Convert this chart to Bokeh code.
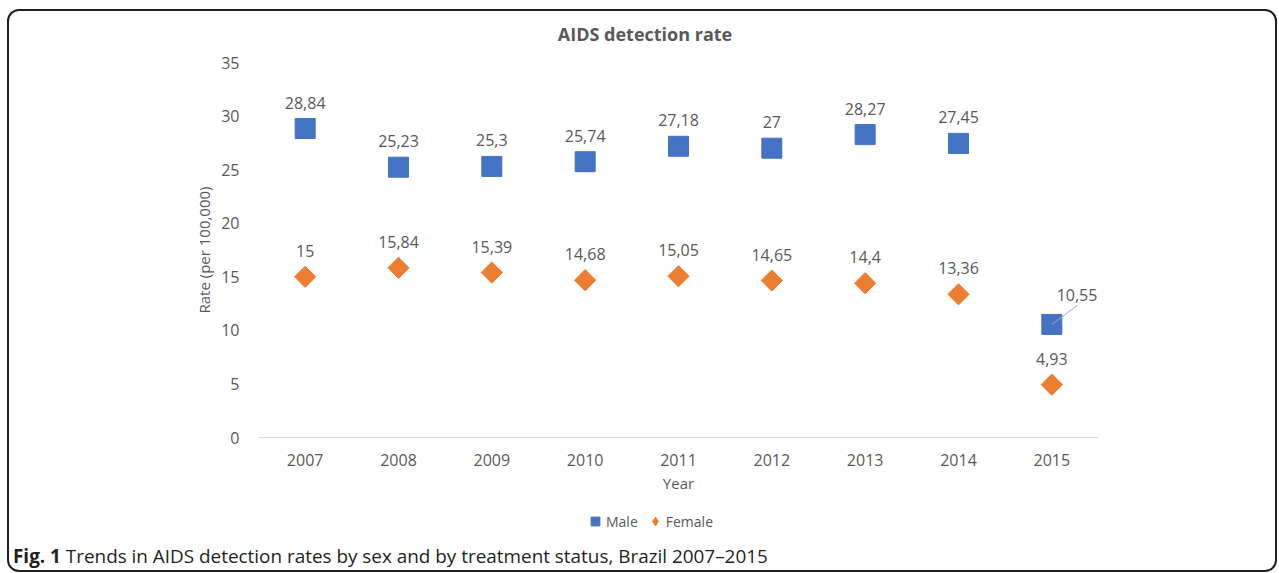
from bokeh.plotting import figure
from bokeh.models import (ColumnDataSource, FixedTicker, Legend, LegendItem, Div, Range1d)
from bokeh.layouts import column
from bokeh.embed import file_html
from bokeh.resources import INLINE
from bokeh.core.properties import value
import numpy as np

years = ["2007", "2008", "2009", "2010", "2011", "2012", "2013", "2014", "2015"]
male = [28.84, 25.23, 25.3, 25.74, 27.18, 27, 28.27, 27.45, 10.55]
female = [15, 15.84, 15.39, 14.68, 15.05, 14.65, 14.4, 13.36, 4.93]
male_labels = ["28,84", "25,23", "25,3", "25,74", "27,18", "27", "28,27", "27,45", "10,55"]
female_labels = ["15", "15,84", "15,39", "14,68", "15,05", "14,65", "14,4", "13,36", "4,93"]
y_ticks = [0, 5, 10, 15, 20, 25, 30, 35]

FONT = "Open Sans"
GRAY = "#595959"
BLUE = "#4472C4"
ORANGE = "#ED7D31"
W = 1266

xs = list(range(len(years)))

title = Div(text="AIDS detection rate", width=W, height=40, margin=0,
            styles={"font-family": "Open Sans", "font-size": "18px", "font-weight": "bold",
                    "color": GRAY, "text-align": "center", "padding-left": "6px",
                    "line-height": "46px", "white-space": "nowrap"})

p = figure(width=W, height=449, output_backend="svg", toolbar_location=None,
           x_range=Range1d(-0.5, len(years) - 0.5), y_range=Range1d(0, 35),
           min_border_left=249, min_border_right=177, min_border_top=11, min_border_bottom=63)
p.title = None
p.outline_line_color = None
p.grid.grid_line_color = None

p.xaxis.ticker = FixedTicker(ticks=xs)
p.xaxis.major_label_overrides = {i: y for i, y in enumerate(years)}
p.yaxis.ticker = FixedTicker(ticks=y_ticks)
for ax in (p.xaxis, p.yaxis):
    ax.major_tick_line_color = None
    ax.minor_tick_line_color = None
    ax.major_label_text_font = FONT
    ax.major_label_text_font_size = "16px"
    ax.major_label_text_color = GRAY
    ax.axis_label_text_font = FONT
    ax.axis_label_text_font_size = "15px"
    ax.axis_label_text_color = GRAY
    ax.axis_label_text_font_style = "normal"
p.yaxis.axis_line_color = None
p.xaxis.axis_line_color = "#D9D9D9"
p.xaxis.axis_line_width = 1
p.xaxis.major_label_standoff = 10
p.yaxis.major_label_standoff = 13
p.xaxis.axis_label = "Year"
p.xaxis.axis_label_standoff = 4
p.yaxis.axis_label = "Rate (per 100,000)"
p.yaxis.axis_label_standoff = 4

src = ColumnDataSource(dict(x=xs, male=male, female=female))

p.scatter("x", "male", source=src, size=20, marker="square",
          fill_color=BLUE, line_color=BLUE)
p.scatter("x", "female", source=src, size=15, angle=np.pi / 4, marker="square",
          fill_color=ORANGE, line_color=ORANGE)

LBL = dict(text_align="center", text_baseline="bottom", text_font=value(FONT),
           text_font_size="16px", text_color=GRAY)
src_m = ColumnDataSource(dict(x=xs[:-1], y=male[:-1], t=male_labels[:-1]))
p.text("x", "y", text="t", source=src_m, y_offset=-20, **LBL)
src_m2 = ColumnDataSource(dict(x=xs[-1:], y=male[-1:], t=male_labels[-1:],
                               x1=[xs[-1] + 0.27], y1=[male[-1] + 1.75]))
p.segment("x", "y", "x1", "y1", source=src_m2, line_color="#A6A6A6", line_width=1)
p.text("x1", "y1", text="t", source=src_m2, y_offset=-5, **LBL)
src_f = ColumnDataSource(dict(x=xs, y=female, t=female_labels))
p.text("x", "y", text="t", source=src_f, y_offset=-20, **LBL)

# legend strip (its frame is aligned with the chart frame by the column layout)
lf = figure(width=W, height=42, output_backend="svg", toolbar_location=None,
            x_axis_type=None, y_axis_type=None, min_border=0,
            x_range=Range1d(0, 1), y_range=Range1d(0, 1))
lf.outline_line_color = None
lf.grid.grid_line_color = None
nodata = ColumnDataSource(dict(x=[np.nan], y=[np.nan]))
lm = lf.scatter("x", "y", source=nodata, size=10, marker="square",
                fill_color=BLUE, line_color=BLUE)
lfe = lf.scatter("x", "y", source=nodata, size=10, marker="diamond",
                 fill_color=ORANGE, line_color=ORANGE)
legend = Legend(items=[LegendItem(label="Male", renderers=[lm]),
                       LegendItem(label="Female", renderers=[lfe])],
                orientation="horizontal", location=(326, 10),
                label_text_font=FONT, label_text_font_size="14px", label_text_color=GRAY,
                glyph_width=22, glyph_height=22, label_standoff=0, spacing=6,
                border_line_color=None, background_fill_alpha=0, margin=0, padding=2)
lf.add_layout(legend)

cap = Div(text='<span style="font-weight:bold">Fig. 1</span> Trends in AIDS detection rates by sex and by treatment status, Brazil 2007\u20132015',
          width=W, height=28, margin=0,
          styles={"font-family": "Open Sans", "font-size": "18.9px", "color": "#231F20",
                  "padding-left": "4px", "line-height": "28px", "white-space": "nowrap"})

layout = column(title, p, lf, cap, spacing=0,
                styles={"border": "2px solid #231F20", "border-radius": "12px",
                        "margin-left": "7px", "margin-top": "9px"})

open("out.html", "w").write(file_html(layout, INLINE))
